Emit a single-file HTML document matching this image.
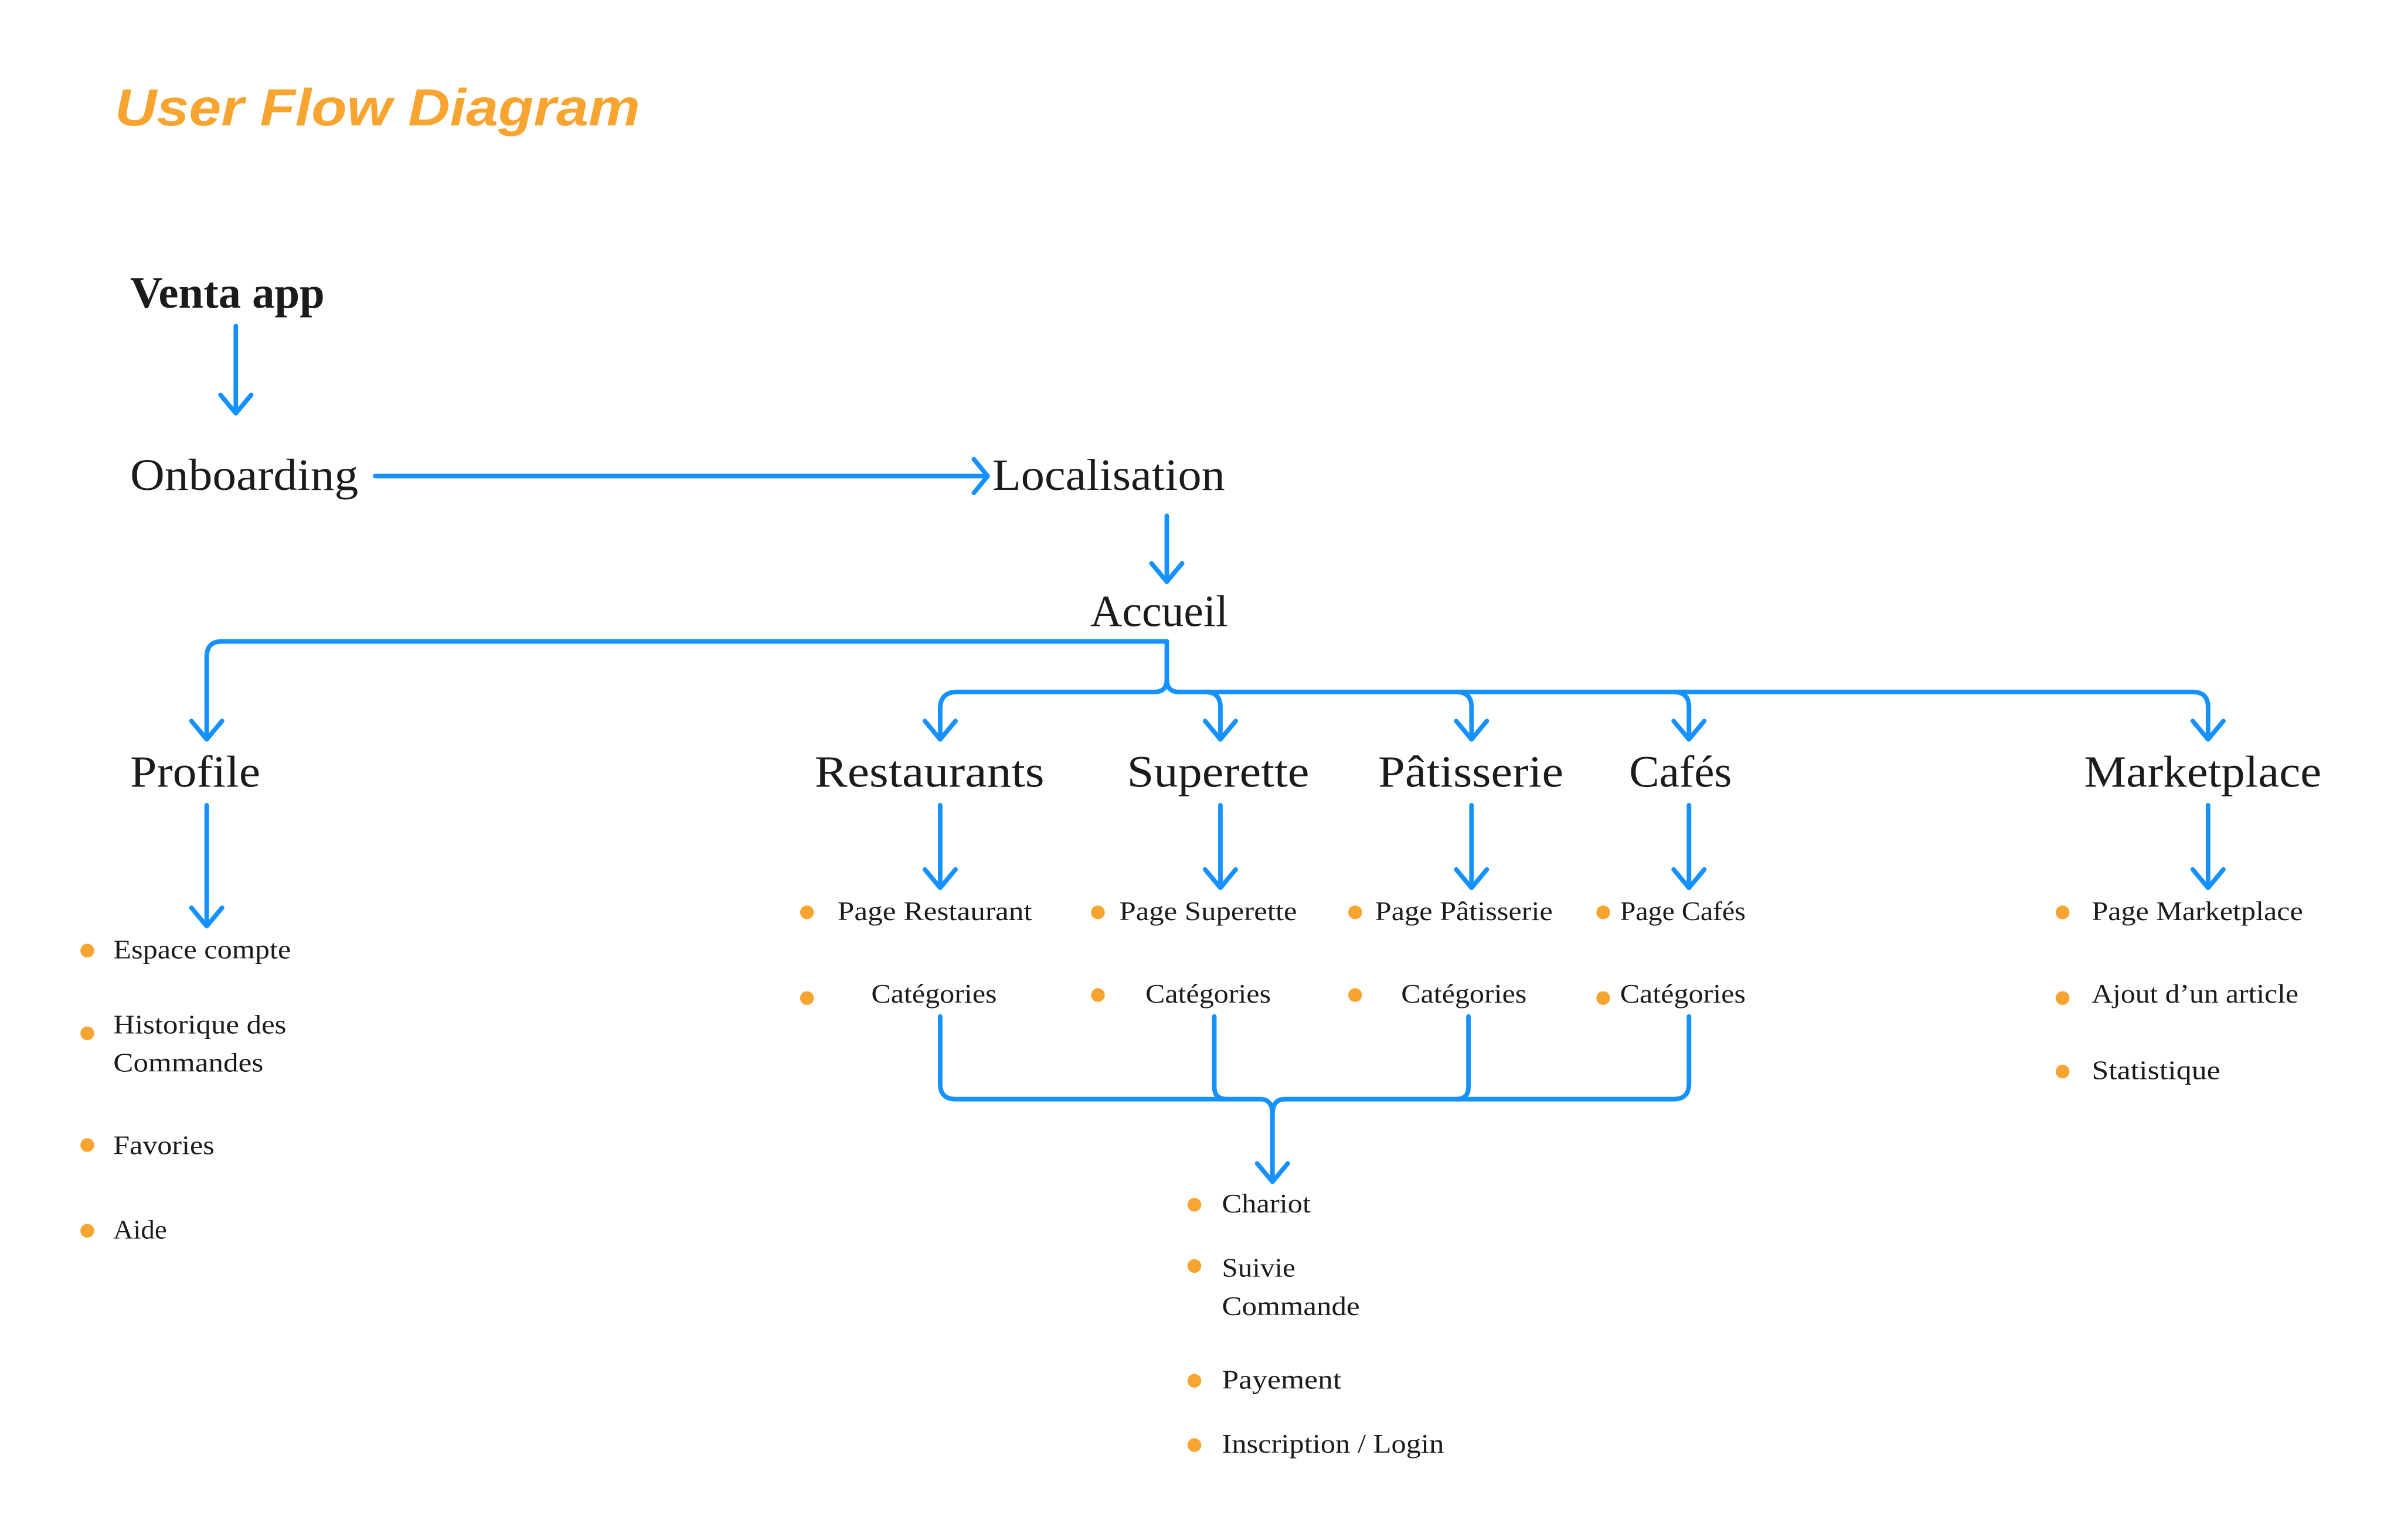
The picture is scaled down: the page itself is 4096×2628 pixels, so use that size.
<!DOCTYPE html>
<html><head><meta charset="utf-8"><style>
html,body{margin:0;padding:0;background:#fff;}
svg{display:block;}
.l{font-family:"Liberation Serif",serif;fill:#1b1b1b;}
.s{font-family:"Liberation Serif",serif;fill:#1b1b1b;font-size:17.5px;}
</style></head><body>
<svg width="4096" height="2628" viewBox="0 0 1568 1006" preserveAspectRatio="none" xmlns="http://www.w3.org/2000/svg">
<rect width="1568" height="1006" fill="#fff"/>
<text x="75" y="82" font-family="Liberation Sans, sans-serif" font-style="italic" font-weight="bold" font-size="34" fill="#F7A530" textLength="343" lengthAdjust="spacingAndGlyphs">User Flow Diagram</text>

<text class="l" x="85" y="201" font-size="29" font-weight="bold" textLength="127" lengthAdjust="spacingAndGlyphs">Venta app</text>
<text class="l" x="85" y="320" font-size="29" textLength="149" lengthAdjust="spacingAndGlyphs">Onboarding</text>
<text class="l" x="648" y="320" font-size="29" textLength="152" lengthAdjust="spacingAndGlyphs">Localisation</text>
<text class="l" x="712" y="409" font-size="29" textLength="90" lengthAdjust="spacingAndGlyphs">Accueil</text>
<text class="l" x="85" y="514" font-size="29" textLength="85" lengthAdjust="spacingAndGlyphs">Profile</text>
<text class="l" x="532" y="514" font-size="29" textLength="150" lengthAdjust="spacingAndGlyphs">Restaurants</text>
<text class="l" x="736" y="514" font-size="29" textLength="119" lengthAdjust="spacingAndGlyphs">Superette</text>
<text class="l" x="900" y="514" font-size="29" textLength="121" lengthAdjust="spacingAndGlyphs">Pâtisserie</text>
<text class="l" x="1064" y="514" font-size="29" textLength="67" lengthAdjust="spacingAndGlyphs">Cafés</text>
<text class="l" x="1361" y="514" font-size="29" textLength="155" lengthAdjust="spacingAndGlyphs">Marketplace</text>

<g fill="none" stroke="#1592FF" stroke-width="3" stroke-linecap="round" stroke-linejoin="round">
<path d="M154 213V270M144 258L154 270L164 258"/>
<path d="M245 311H645M636 300L645 311L636 322"/>
<path d="M762 337V380M752 368L762 380L772 368"/>
<path d="M762 419H145Q135 419 135 429V483M125 471L135 483L145 471"/>
<path d="M762 419V444Q762 452 754 452H625Q614 452 614 463V483M604 471L614 483L624 471"/>
<path d="M762 444Q762 452 770 452H1432Q1442 452 1442 462V483M1432 471L1442 483L1452 471"/>
<path d="M787 452Q797 452 797 462V483M787 471L797 483L807 471"/>
<path d="M951 452Q961 452 961 462V483M951 471L961 483L971 471"/>
<path d="M1093 452Q1103 452 1103 462V483M1093 471L1103 483L1113 471"/>
<path d="M135 526V605M125 593L135 605L145 593"/>
<path d="M614 526V580M604 568L614 580L624 568"/>
<path d="M797 526V580M787 568L797 580L807 568"/>
<path d="M961 526V580M951 568L961 580L971 568"/>
<path d="M1103 526V580M1093 568L1103 580L1113 568"/>
<path d="M1442 526V580M1432 568L1442 580L1452 568"/>
<path d="M614 664V708Q614 718 624 718H823Q831 718 831 728V772M821 760L831 772L841 760"/>
<path d="M1103 664V708Q1103 718 1093 718H839Q831 718 831 728"/>
<path d="M793 664V710Q793 718 801 718"/>
<path d="M959 664V710Q959 718 951 718"/>
</g>

<g fill="#F7A530">
<circle cx="57" cy="621" r="4.5"/><circle cx="57" cy="675" r="4.5"/><circle cx="57" cy="748" r="4.5"/><circle cx="57" cy="804" r="4.5"/>
<circle cx="527" cy="596" r="4.5"/><circle cx="527" cy="652" r="4.5"/>
<circle cx="717" cy="596" r="4.5"/><circle cx="717" cy="650" r="4.5"/>
<circle cx="885" cy="596" r="4.5"/><circle cx="885" cy="650" r="4.5"/>
<circle cx="1047" cy="596" r="4.5"/><circle cx="1047" cy="652" r="4.5"/>
<circle cx="1347" cy="596" r="4.5"/><circle cx="1347" cy="652" r="4.5"/><circle cx="1347" cy="700" r="4.5"/>
<circle cx="780" cy="787" r="4.5"/><circle cx="780" cy="827" r="4.5"/><circle cx="780" cy="902" r="4.5"/><circle cx="780" cy="944" r="4.5"/>
</g>

<g class="s">
<text x="74" y="626" textLength="116" lengthAdjust="spacingAndGlyphs">Espace compte</text>
<text x="74" y="675" textLength="113" lengthAdjust="spacingAndGlyphs">Historique des</text>
<text x="74" y="700" textLength="98" lengthAdjust="spacingAndGlyphs">Commandes</text>
<text x="74" y="754" textLength="66" lengthAdjust="spacingAndGlyphs">Favories</text>
<text x="74" y="809" textLength="35" lengthAdjust="spacingAndGlyphs">Aide</text>

<text x="547" y="601" textLength="127" lengthAdjust="spacingAndGlyphs">Page Restaurant</text>
<text x="569" y="655" textLength="82" lengthAdjust="spacingAndGlyphs">Catégories</text>
<text x="731" y="601" textLength="116" lengthAdjust="spacingAndGlyphs">Page Superette</text>
<text x="748" y="655" textLength="82" lengthAdjust="spacingAndGlyphs">Catégories</text>
<text x="898" y="601" textLength="116" lengthAdjust="spacingAndGlyphs">Page Pâtisserie</text>
<text x="915" y="655" textLength="82" lengthAdjust="spacingAndGlyphs">Catégories</text>
<text x="1058" y="601" textLength="82" lengthAdjust="spacingAndGlyphs">Page Cafés</text>
<text x="1058" y="655" textLength="82" lengthAdjust="spacingAndGlyphs">Catégories</text>

<text x="1366" y="601" textLength="138" lengthAdjust="spacingAndGlyphs">Page Marketplace</text>
<text x="1366" y="655" textLength="135" lengthAdjust="spacingAndGlyphs">Ajout d’un article</text>
<text x="1366" y="705" textLength="84" lengthAdjust="spacingAndGlyphs">Statistique</text>

<text x="798" y="792" textLength="58" lengthAdjust="spacingAndGlyphs">Chariot</text>
<text x="798" y="834" textLength="48" lengthAdjust="spacingAndGlyphs">Suivie</text>
<text x="798" y="859" textLength="90" lengthAdjust="spacingAndGlyphs">Commande</text>
<text x="798" y="907" textLength="78" lengthAdjust="spacingAndGlyphs">Payement</text>
<text x="798" y="949" textLength="145" lengthAdjust="spacingAndGlyphs">Inscription / Login</text>
</g>
</svg>
</body></html>
